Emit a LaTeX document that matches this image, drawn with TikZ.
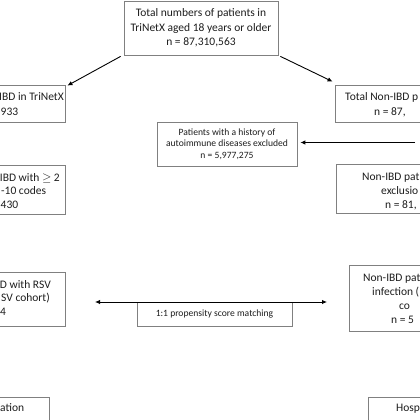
\documentclass[tikz,border=0pt]{standalone}
\usepackage{fontspec}
\setmainfont{Carlito}
\usetikzlibrary{arrows.meta,calc}
\definecolor{boxgray}{RGB}{128,128,128}
\definecolor{txt}{RGB}{30,30,30}
\begin{document}
\begin{tikzpicture}[x=1pt,y=-1pt,
  box/.style={draw=boxgray,line width=0.8pt,inner sep=0pt,fill=white},
  big/.style={font=\fontsize{11.5}{14.5}\selectfont,text=txt},
  small/.style={font=\fontsize{9.6}{11.5}\selectfont,text=txt},
  frag/.style={big,inner sep=0pt},
  arr/.style={-{Latex[length=5pt,width=4.5pt]},line width=0.9pt},
  darr/.style={{Latex[length=5pt,width=4.5pt]}-{Latex[length=5pt,width=4.5pt]},line width=0.9pt}]
\useasboundingbox (0,0) rectangle (420,420);
\fill[white] (0,0) rectangle (420,420);
\clip (0,0) rectangle (420,420);

% boxes
\node[box,big,align=center,minimum width=154pt,minimum height=54pt] (top) at (201,28)
  {Total numbers of patients in\\TriNetX aged 18 years or older\\n = 87,310,563};
\node[box,minimum width=165pt,minimum height=37pt] (l1) at (-17.5,103.5) {};
\node[box,minimum width=185pt,minimum height=37pt] (r1) at (427.5,103.5) {};
\node[box,small,align=center,minimum width=140pt,minimum height=44pt] (ex) at (227,144)
  {Patients with a history of\\autoimmune diseases excluded\\n = 5,977,275};
\node[box,minimum width=165pt,minimum height=49pt] (l2) at (-17.5,189.5) {};
\node[box,minimum width=184pt,minimum height=49pt] (r2) at (428,188.5) {};
\node[box,minimum width=165pt,minimum height=54pt] (l3) at (-17.5,299) {};
\node[box,minimum width=171pt,minimum height=66pt] (r3) at (434.5,298) {};
\node[box,minimum width=149pt,minimum height=43pt] (bl) at (-25.5,418.5) {};
\node[box,minimum width=152pt,minimum height=43pt] (br) at (444,418.5) {};

% text fragments of cropped boxes
\node[frag,anchor=base east] (l1a) at (64,100.5) {IBD in TriNetX};
\node[frag,anchor=base west] (l1b) at (0.5,115) {933};
\node[frag,anchor=base west] (r1a) at (345,100.5) {Total Non-IBD p};
\node[frag,anchor=base west] (r1b) at (374,115) {n = 87,};
\node[frag,anchor=base east] (l2a) at (60,181) {IBD with $\geq$ 2};
\node[frag,anchor=base west] (l2b) at (1,194.5) {-10 codes};
\node[frag,anchor=base west] (l2c) at (0.5,208) {430};
\node[frag,anchor=base west] (r2a) at (362,180.5) {Non-IBD pat};
\node[frag,anchor=base west] (r2b) at (381,194.5) {exclusio};
\node[frag,anchor=base west] (r2c) at (385,208.5) {n = 81,};
\node[frag,anchor=base east] (l3a) at (51,288.5) {D with RSV};
\node[frag,anchor=base east] (l3b) at (50,301.5) {SV cohort)};
\node[frag,anchor=base west] (l3c) at (0,315) {4};
\node[frag,anchor=base west] (r3a) at (363,281) {Non-IBD pat};
\node[frag,anchor=base west] (r3b) at (372,295) {infection (};
\node[frag,anchor=base west] (r3c) at (399,309) {co};
\node[frag,anchor=base west] (r3d) at (391,323) {n = 5};
\node[frag,anchor=base west] (bla) at (0,411.5) {ation};
\node[frag,anchor=base west] (bra) at (396,411.5) {Hosp};

\node[box,small,minimum width=155pt,minimum height=24pt] (match) at (214.5,314)
  {1:1 propensity score matching};

% connectors
\draw[arr] ($(top.south west)+(-3,1)$) -- ($(l1.north east)+(2,1)$);
\draw[arr] ($(top.south east)+(2,1)$) -- ($(r1.north west)+(-2,-3)$);
\coordinate (hs) at (415,142.5);
\draw[arr,shorten >=3pt] (hs) -- (ex.east |- hs);
\coordinate (dl) at (95,302);
\coordinate (dr) at (327,302);
\draw[darr] (dl) -- (dr);
\end{tikzpicture}
\end{document}
